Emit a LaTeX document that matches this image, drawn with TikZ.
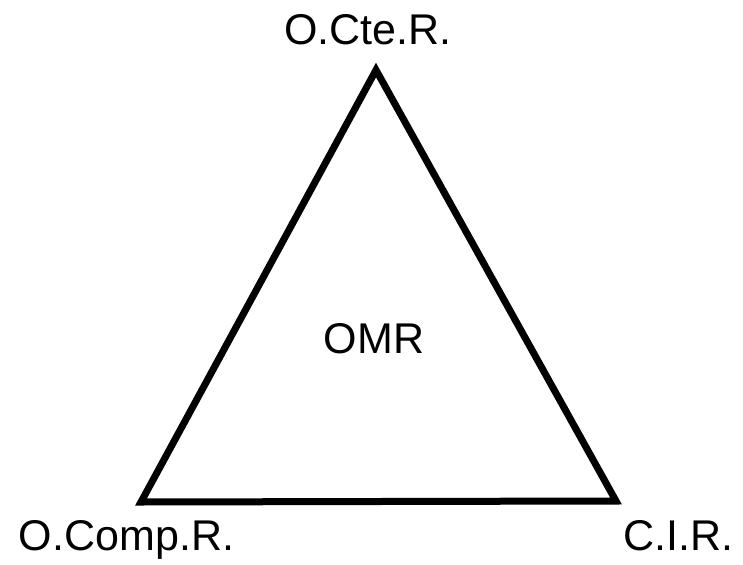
\documentclass[tikz,border=0pt]{standalone}
\usepackage{fontspec}
\setmainfont{Liberation Sans}
\begin{document}
\begin{tikzpicture}[x=1pt,y=-1pt,
  lbl/.style={anchor=base,inner sep=0pt,font=\fontsize{43}{50}\selectfont},
  edge/.style={line width=7pt,line join=miter,black}]
\useasboundingbox (0,0) rectangle (743,564);
\coordinate (top) at (376,70);
\coordinate (bl) at (141,502);
\coordinate (br) at (616,501);
\draw[edge] (top) -- (bl) -- (br) -- cycle;
\node[lbl] (tl) at (368,45) {O.Cte.R.};
\node[lbl] (ll) at (126.5,550) {O.Comp.R.};
\node[lbl] (rl) at (678.5,550) {C.I.R.};
\node[lbl] (cl) at (374,353) {OMR};
\end{tikzpicture}
\end{document}
